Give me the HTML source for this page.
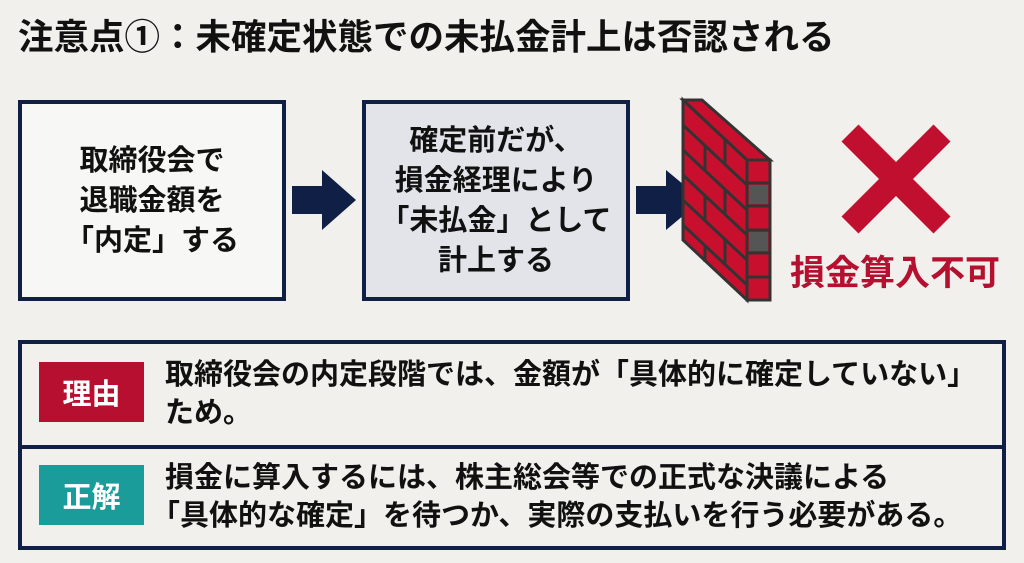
<!DOCTYPE html>
<html><head><meta charset="utf-8"><style>
body{margin:0;width:1024px;height:563px;background:#f1f0ec;font-family:"Liberation Sans","Noto Sans CJK JP",sans-serif;position:relative;overflow:hidden;color:#111}
.a{position:absolute}
.t{font-weight:bold}
.box{position:absolute;border:4px solid #0f1f45;box-sizing:border-box;display:flex;align-items:center;justify-content:center;text-align:center;font-weight:bold;font-size:29px;line-height:40px}
.lab{position:absolute;left:39px;width:105px;height:60px;color:#fff;font-weight:bold;font-size:29px;display:flex;align-items:center;justify-content:center}
.txt{position:absolute;left:165px;font-weight:bold;font-size:29px;line-height:38px;white-space:nowrap}
</style></head><body>
<div class="a t" style="left:18px;top:13px;font-size:35.5px;line-height:48px">注意点①：未確定状態での未払金計上は否認される</div>
<div class="box" style="left:18px;top:100px;width:268px;height:201px;background:#f7f7f5">取締役会で<br>退職金額を<br>「内定」する</div>
<div class="box" style="left:362px;top:100px;width:268px;height:201px;background:#e3e4e9;line-height:40px">確定前だが、<br>損金経理により<br>「未払金」として<br>計上する</div>
<svg class="a" style="left:0;top:0" width="1024" height="563">
<polygon points="292,186 322,186 322,170 356,200 322,230 322,214 292,214" fill="#0f1f45"/>
<polygon points="636,186 666,186 666,170 702,200 666,230 666,214 636,214" fill="#0f1f45"/>
<polygon points="683,100 702,100 770,160 747,160" fill="#c8102e" stroke="#333" stroke-width="3"/>
<polygon points="683,100 747,160 747,300 683,240" fill="#c8102e" stroke="#333" stroke-width="3"/>
<rect x="747" y="160" width="23" height="140" fill="#c8102e" stroke="#333" stroke-width="3"/>
<g stroke="#333" stroke-width="3">
<line x1="683" y1="125" x2="747" y2="185"/><line x1="683" y1="150" x2="747" y2="210"/><line x1="683" y1="175" x2="747" y2="235"/><line x1="683" y1="200" x2="747" y2="260"/><line x1="683" y1="225" x2="747" y2="285"/>
<line x1="747" y1="183" x2="770" y2="183"/><line x1="747" y1="206" x2="770" y2="206"/><line x1="747" y1="230" x2="770" y2="230"/><line x1="747" y1="253" x2="770" y2="253"/><line x1="747" y1="277" x2="770" y2="277"/>
<line x1="705" y1="145" x2="705" y2="170"/><line x1="725" y1="140" x2="725" y2="165"/><line x1="705" y1="195" x2="705" y2="220"/><line x1="725" y1="190" x2="725" y2="215"/><line x1="705" y1="245" x2="705" y2="262"/><line x1="725" y1="240" x2="725" y2="265"/>
</g>
<rect x="749" y="185" width="19" height="19" fill="#555"/><rect x="749" y="232" width="19" height="19" fill="#555"/>
<g stroke="#c1102f" stroke-width="24"><line x1="850" y1="133" x2="942" y2="225"/><line x1="942" y1="133" x2="850" y2="225"/></g>
<rect x="20" y="342" width="984" height="206" fill="none" stroke="#0f1f45" stroke-width="4"/>
<line x1="20" y1="447" x2="1004" y2="447" stroke="#0f1f45" stroke-width="4"/>
</svg>
<div class="a t" style="left:790px;top:252px;font-size:35px;color:#b5102f;line-height:44px">損金算入不可</div>
<div class="lab" style="top:362px;background:#b70f2f">理由</div>
<div class="lab" style="top:465px;background:#1a9c9b">正解</div>
<div class="txt" style="top:356px">取締役会の内定段階では、金額が「具体的に確定していない」<br>ため。</div>
<div class="txt" style="top:459px">損金に算入するには、株主総会等での正式な決議による<br><span style="margin-left:-14px">「具体的な確定」を待つか、実際の支払いを行う必要がある。</span></div>
</body></html>
